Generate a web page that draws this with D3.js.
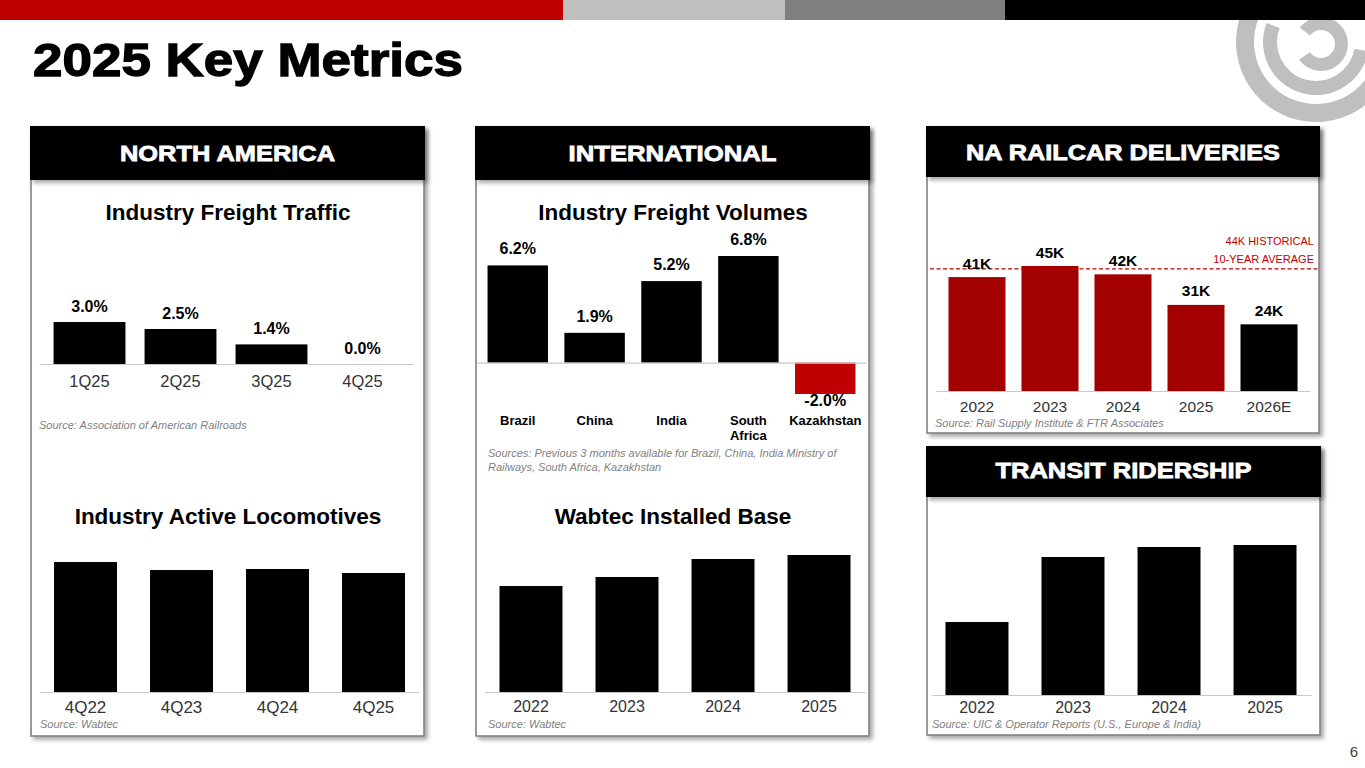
<!DOCTYPE html>
<html><head><meta charset="utf-8">
<script src="https://cdn.jsdelivr.net/npm/d3@7/dist/d3.min.js"></script>
<style>
body{margin:0;background:#fff;}
svg{display:block;font-family:"Liberation Sans",Arial,Helvetica,sans-serif;}
</style>
</head><body>
<svg id="c" width="1365" height="768"></svg>
<script>
// ---------- DATA ----------
const freightCats = ["1Q25", "2Q25", "3Q25", "4Q25"];
const freightValues = [3.0, 2.5, 1.4, 0.0];

const intlCats = ["Brazil", "China", "India", "South Africa", "Kazakhstan"];
const intlValues = [6.2, 1.9, 5.2, 6.8, -2.0];

const railcarCats = ["2022", "2023", "2024", "2025", "2026E"];
const railcarValues = [41, 45, 42, 31, 24];
const railcarAverage = 44;

const locoCats = ["4Q22", "4Q23", "4Q24", "4Q25"];
const locoValues = [26.0, 24.4, 24.6, 23.8];

const installedCats = ["2022", "2023", "2024", "2025"];
const installedValues = [21.2, 23.0, 26.6, 27.4];

const transitCats = ["2022", "2023", "2024", "2025"];
const transitValues = [14.6, 27.6, 29.6, 30.0];

const topBarColors = ["#c00000", "#bfbfbf", "#7f7f7f", "#000000"];
const topBarStops = [0, 563, 785, 1005, 1365];

// ---------- DRAWING ----------
const svg = d3.select("#c");
const FONT = "'Liberation Sans', Arial, Helvetica, sans-serif";
const defs = svg.append("defs");
const flt = defs.append("filter").attr("id", "sh")
  .attr("x", "-10%").attr("y", "-10%").attr("width", "125%").attr("height", "125%");
flt.append("feDropShadow").attr("dx", 3).attr("dy", 3).attr("stdDeviation", 2.2)
  .attr("flood-color", "#000").attr("flood-opacity", 0.35);

// logo (decorative concentric arcs)
const deg = Math.PI / 180;
const logoG = svg.append("g");
const arcGen = d3.arc();
[
  {cx: 1316, cy: 42, r0: 62, r1: 80, a0: 60, a1: 362},
  {cx: 1316, cy: 42, r0: 39, r1: 53, a0: 100, a1: 291},
  {cx: 1321, cy: 44, r0: 14, r1: 27, a0: -52, a1: 234}
].forEach(r => {
  logoG.append("path")
    .attr("transform", `translate(${r.cx},${r.cy})`)
    .attr("d", arcGen({innerRadius: r.r0, outerRadius: r.r1, startAngle: r.a0 * deg, endAngle: r.a1 * deg}))
    .attr("fill", "#bfbfbf");
});

// top bar
svg.append("g").selectAll("rect").data(topBarColors).join("rect")
  .attr("x", (d, i) => topBarStops[i]).attr("y", 0)
  .attr("width", (d, i) => topBarStops[i + 1] - topBarStops[i]).attr("height", 20)
  .attr("fill", d => d);

// title
svg.append("text").attr("x", 33).attr("y", 76)
  .attr("font-family", FONT).attr("font-weight", "bold").attr("font-size", 46)
  .attr("fill", "#000").attr("stroke", "#000").attr("stroke-width", 1.3)
  .attr("textLength", 430).attr("lengthAdjust", "spacingAndGlyphs")
  .text("2025 Key Metrics");

// page number
svg.append("text").attr("x", 1358).attr("y", 757).attr("text-anchor", "end")
  .attr("font-family", FONT).attr("font-size", 15).attr("fill", "#404040").text("6");

// panels
function panel(x0, x1, y0, y1, hh, title, tw, base) {
  svg.append("rect").attr("x", x0 + 1).attr("y", y0 + 1).attr("width", x1 - x0 - 2).attr("height", y1 - y0 - 1)
    .attr("fill", "#fff").attr("stroke", "#7a7a7a").attr("stroke-width", 1.5).attr("filter", "url(#sh)");
  svg.append("rect").attr("x", x0).attr("y", y0).attr("width", x1 - x0).attr("height", hh)
    .attr("fill", "#000").attr("filter", "url(#sh)");
  svg.append("text").attr("x", (x0 + x1) / 2).attr("y", base).attr("text-anchor", "middle")
    .attr("font-family", FONT).attr("font-weight", "bold").attr("font-size", 22)
    .attr("fill", "#fff").attr("stroke", "#fff").attr("stroke-width", 0.8)
    .attr("textLength", tw).attr("lengthAdjust", "spacingAndGlyphs").text(title);
}
panel(30, 425, 126, 736, 54, "NORTH AMERICA", 215, 161);
panel(475, 870, 126, 736, 54, "INTERNATIONAL", 208, 161);
panel(926, 1320, 126, 433, 51, "NA RAILCAR DELIVERIES", 314, 160);
panel(926, 1321, 446, 735, 51, "TRANSIT RIDERSHIP", 256, 478);

function chartTitle(cx, y, t) {
  svg.append("text").attr("x", cx).attr("y", y).attr("text-anchor", "middle")
    .attr("font-family", FONT).attr("font-weight", "bold").attr("font-size", 22.5)
    .attr("fill", "#000").text(t);
}
function source(x, y, lines) {
  const t = svg.append("text").attr("x", x).attr("y", y)
    .attr("font-family", FONT).attr("font-style", "italic").attr("font-size", 11).attr("fill", "#7f7f7f");
  lines.forEach((l, i) => t.append("tspan").attr("x", x).attr("dy", i ? 14 : 0).text(l));
}

function bars(cfg) {
  const g = svg.append("g");
  const x = d3.scaleBand().domain(cfg.cats).range(cfg.xr).paddingInner(cfg.pi).paddingOuter(cfg.po);
  const y = d3.scaleLinear().domain(cfg.yd).range(cfg.yr);
  const data = cfg.cats.map((c, i) => ({c, v: cfg.vals[i]}));
  g.selectAll("rect.bar").data(data).join("rect").attr("class", "bar")
    .attr("x", d => x(d.c)).attr("width", x.bandwidth())
    .attr("y", d => Math.min(y(d.v), y(0))).attr("height", d => Math.abs(y(d.v) - y(0)))
    .attr("fill", cfg.color || "#000");
  const ax = g.append("g").attr("transform", `translate(0,${y(0)})`)
    .call(d3.axisBottom(x).tickSize(0).tickSizeOuter(0));
  ax.select(".domain").attr("stroke", "#c8c8c8").attr("stroke-width", 1.2);
  ax.attr("font-family", FONT).attr("font-size", cfg.tickFs);
  ax.selectAll(".tick text").attr("y", cfg.tickY).attr("dy", 0)
    .attr("fill", cfg.tickColor || "#333").attr("font-weight", cfg.tickWeight || "normal");
  if (cfg.wrap) {
    ax.selectAll(".tick text").each(function (d) {
      const words = d.split(" ");
      if (words.length > 1) {
        const t = d3.select(this).text(null);
        words.forEach((w, i) => t.append("tspan").attr("x", 0).attr("dy", i ? 15 : 0).text(w));
      }
    });
  }
  if (cfg.fmt) {
    g.selectAll("text.val").data(data).join("text").attr("class", "val")
      .attr("x", d => x(d.c) + x.bandwidth() / 2)
      .attr("y", d => d.v < 0 ? y(d.v) + cfg.negOff : y(d.v) - cfg.off)
      .attr("text-anchor", "middle").attr("font-family", FONT).attr("font-weight", "bold")
      .attr("font-size", cfg.valFs).attr("fill", "#000").text(cfg.fmt);
  }
  return {x, y, g};
}

// North America - freight traffic
chartTitle(228, 220, "Industry Freight Traffic");
bars({cats: freightCats, vals: freightValues, xr: [39, 413], pi: 0.21, po: 0.16,
  yd: [0, 3], yr: [364, 322], tickFs: 16.5, tickY: 23, fmt: d => d.v.toFixed(1) + "%", off: 10, valFs: 16});
source(39, 429, ["Source: Association of American Railroads"]);

// North America - locomotives
chartTitle(228, 524, "Industry Active Locomotives");
bars({cats: locoCats, vals: locoValues, xr: [40, 419], pi: 0.344, po: 0.146,
  yd: [0, 26], yr: [692, 562], tickFs: 17, tickY: 21});
source(40, 728, ["Source: Wabtec"]);

// International - freight volumes
chartTitle(673, 220, "Industry Freight Volumes");
bars({cats: intlCats, vals: intlValues, xr: [477, 866], pi: 0.214, po: 0.137,
  yd: [-2, 6.8], yr: [394, 256], tickFs: 13, tickY: 62, tickWeight: "bold", tickColor: "#000", wrap: true,
  color: d => d.v < 0 ? "#c00000" : "#000",
  fmt: d => d.v.toFixed(1) + "%", off: 11, negOff: 12, valFs: 16});
source(488, 457, ["Sources: Previous 3 months available for Brazil, China, India Ministry of", "Railways, South Africa, Kazakhstan"]);

// International - installed base
chartTitle(673, 524, "Wabtec Installed Base");
bars({cats: installedCats, vals: installedValues, xr: [485, 865], pi: 0.344, po: 0.151,
  yd: [0, 27.4], yr: [692, 555], tickFs: 16, tickY: 20});
source(488, 728, ["Source: Wabtec"]);

// NA railcar deliveries
const rc = bars({cats: railcarCats, vals: railcarValues, xr: [936, 1310], pi: 0.219, po: 0.171,
  yd: [0, 45], yr: [391, 266], tickFs: 15.5, tickY: 21,
  color: d => d.c.endsWith("E") ? "#000" : "#a30000",
  fmt: d => d.v + "K", off: 8.5, valFs: 15.5});
rc.g.append("line").attr("x1", 930).attr("x2", 1318)
  .attr("y1", rc.y(railcarAverage)).attr("y2", rc.y(railcarAverage))
  .attr("stroke", "#c00000").attr("stroke-width", 1.3).attr("stroke-dasharray", "4,2.5");
rc.g.selectAll("text.val").raise();
const avgT = svg.append("text").attr("text-anchor", "end").attr("font-family", FONT)
  .attr("font-size", 11).attr("fill", "#c00000");
avgT.append("tspan").attr("x", 1314).attr("y", 245).text(railcarAverage + "K HISTORICAL");
avgT.append("tspan").attr("x", 1314).attr("y", 263).text("10-YEAR AVERAGE");
source(935, 427, ["Source: Rail Supply Institute & FTR Associates"]);

// Transit ridership
bars({cats: transitCats, vals: transitValues, xr: [931, 1311], pi: 0.344, po: 0.151,
  yd: [0, 30], yr: [695, 545], tickFs: 16, tickY: 18});
source(932, 728, ["Source: UIC & Operator Reports (U.S., Europe & India)"]);
</script>
</body></html>
